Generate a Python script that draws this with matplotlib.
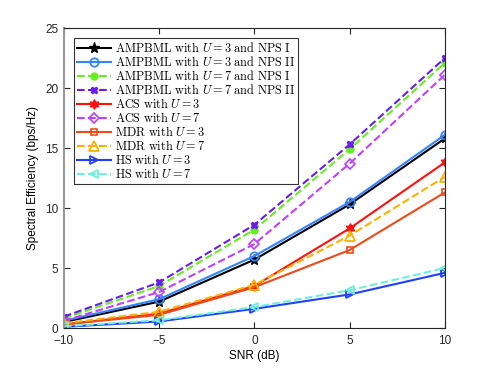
import matplotlib
matplotlib.use('Agg')
import matplotlib.pyplot as plt

plt.rcParams['mathtext.fontset'] = 'cm'
plt.rcParams['font.family'] = ['Liberation Sans', 'DejaVu Sans']

snr = [-10, -5, 0, 5, 10]

amp_u3_nps1 = [0.5, 2.2, 5.7, 10.3, 15.8]
amp_u3_nps2 = [0.6, 2.4, 6.0, 10.5, 16.1]
amp_u7_nps1 = [0.8, 3.5, 8.2, 14.9, 22.1]
amp_u7_nps2 = [0.95, 3.8, 8.6, 15.3, 22.5]
acs_u3 = [0.3, 1.2, 3.5, 8.3, 13.8]
acs_u7 = [0.6, 3.0, 7.0, 13.7, 21.1]
mdr_u3 = [0.3, 1.1, 3.4, 6.5, 11.3]
mdr_u7 = [0.4, 1.35, 3.6, 7.7, 12.6]
hs_u3 = [0.1, 0.55, 1.6, 2.8, 4.6]
hs_u7 = [0.15, 0.65, 1.75, 3.15, 5.0]

labels = [
    r'$\mathrm{AMPBML\ with\ }U=3\mathrm{\ and\ NPS\ I}$',
    r'$\mathrm{AMPBML\ with\ }U=3\mathrm{\ and\ NPS\ II}$',
    r'$\mathrm{AMPBML\ with\ }U=7\mathrm{\ and\ NPS\ I}$',
    r'$\mathrm{AMPBML\ with\ }U=7\mathrm{\ and\ NPS\ II}$',
    r'$\mathrm{ACS\ with\ }U=3$',
    r'$\mathrm{ACS\ with\ }U=7$',
    r'$\mathrm{MDR\ with\ }U=3$',
    r'$\mathrm{MDR\ with\ }U=7$',
    r'$\mathrm{HS\ with\ }U=3$',
    r'$\mathrm{HS\ with\ }U=7$',
]

fig = plt.figure(figsize=(4.91, 3.69), dpi=100)
ax = fig.add_axes([0.130, 0.111, 0.776, 0.813])

ax.plot(snr, amp_u3_nps1, '-', color='black', marker='*', ms=8, lw=1.5, label=labels[0])
ax.plot(snr, amp_u3_nps2, '-', color='#3385ff', marker='o', ms=6, mfc='none', mew=1.3, lw=1.5, label=labels[1])
ax.plot(snr, amp_u7_nps1, '--', color='#66ee22', marker='o', ms=5, lw=1.5, label=labels[2])
ax.plot(snr, amp_u7_nps2, '--', color='#6a1de8', marker='X', ms=5, lw=1.5, label=labels[3])
ax.plot(snr, acs_u3, '-', color='#ff1010', marker=(6, 1, 0), ms=7, lw=1.5, label=labels[4])
ax.plot(snr, acs_u7, '--', color='#c040ff', marker='D', ms=5, mfc='none', mew=1.2, lw=1.5, label=labels[5])
ax.plot(snr, mdr_u3, '-', color='#ee4a18', marker='s', ms=5, mfc='none', mew=1.2, lw=1.5, label=labels[6])
ax.plot(snr, mdr_u7, '--', color='#ffb000', marker='^', ms=7, mfc='none', mew=1.3, lw=1.5, label=labels[7])
ax.plot(snr, hs_u3, '-', color='#2040ff', marker='>', ms=6, mfc='none', mew=1.3, lw=1.5, label=labels[8])
ax.plot(snr, hs_u7, '--', color='#70f0dc', marker='<', ms=6, mfc='none', mew=1.3, lw=1.5, label=labels[9])

ax.set_xlim(-10, 10)
ax.set_ylim(0, 25)
ax.set_xticks([-10, -5, 0, 5, 10])
ax.set_yticks([0, 5, 10, 15, 20, 25])
ax.set_xticklabels(['\u221210', '\u22125', '0', '5', '10'])
ax.tick_params(direction='in', labelsize=8.5, length=4, top=True, right=True, colors='#262626')
ax.tick_params(axis='x', pad=5)
ax.tick_params(axis='y', pad=4)
for s in ax.spines.values():
    s.set_color('#262626')
    s.set_linewidth(0.8)
ax.spines['left'].set_color('#999999')
ax.spines['left'].set_linewidth(1.5)

ax.set_xlabel('SNR (dB)', fontsize=8.5, labelpad=2)
ax.set_ylabel('Spectral Efficiency (bps/Hz)', fontsize=8.5)

leg = ax.legend(loc='upper left', bbox_to_anchor=(0.026, 0.967), fontsize=8.8,
                frameon=True, fancybox=False, edgecolor='black',
                handlelength=2.8, borderpad=0.25, labelspacing=0.0,
                handletextpad=0.3, borderaxespad=0)
leg.get_frame().set_linewidth(0.8)

fig.savefig('out.png', dpi=100)
